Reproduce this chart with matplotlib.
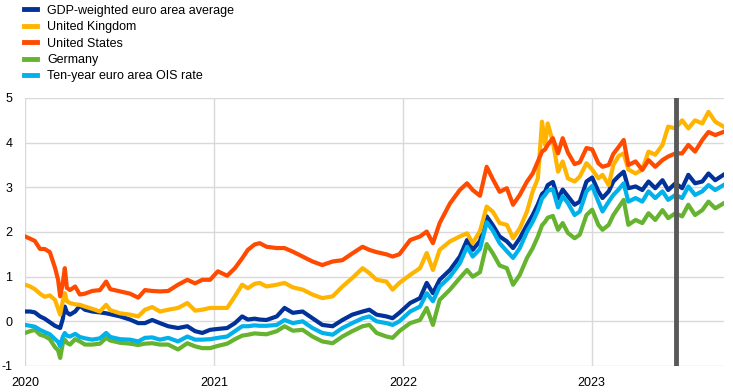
import matplotlib
matplotlib.use("Agg")
import matplotlib.pyplot as plt
import matplotlib.dates as mdates
import numpy as np
import pandas as pd

dates = ["2020-01-01","2020-01-11","2020-01-20","2020-01-30","2020-02-08","2020-02-18","2020-02-28",
         "2020-03-05","2020-03-09","2020-03-14","2020-03-18","2020-03-22","2020-03-28","2020-04-07",
         "2020-04-16","2020-04-26","2020-05-10","2020-05-25","2020-06-06","2020-06-14","2020-07-03",
         "2020-07-22","2020-08-07","2020-08-20","2020-09-03","2020-09-18","2020-10-04","2020-10-23",
         "2020-11-10","2020-11-25","2020-12-09","2020-12-24",
         "2021-01-08","2021-01-26","2021-02-10","2021-02-24","2021-03-07","2021-03-20","2021-03-30",
         "2021-04-12","2021-05-02","2021-05-17","2021-06-02","2021-06-21","2021-07-10","2021-07-29",
         "2021-08-18","2021-09-06","2021-09-25","2021-10-15","2021-10-28","2021-11-11","2021-11-30",
         "2021-12-12","2021-12-25",
         "2022-01-15","2022-02-03","2022-02-16","2022-02-28","2022-03-13","2022-04-02","2022-04-21",
         "2022-05-05","2022-05-16","2022-05-30","2022-06-12","2022-06-24","2022-07-07","2022-07-21",
         "2022-08-02","2022-08-15","2022-08-29","2022-09-09","2022-09-19","2022-09-27","2022-10-03",
         "2022-10-08","2022-10-18","2022-10-28","2022-11-06","2022-11-16","2022-11-29","2022-12-09",
         "2022-12-22",
         "2023-01-02","2023-01-14","2023-01-22","2023-02-03","2023-02-12","2023-02-22","2023-03-04",
         "2023-03-13","2023-03-27","2023-04-09","2023-04-21","2023-05-04","2023-05-18","2023-05-29",
         "2023-06-12","2023-06-25","2023-07-07","2023-07-20","2023-08-03","2023-08-15","2023-08-28",
         "2023-09-13"]

us = [1.90,1.85,1.80,1.62,1.62,1.55,1.20,0.93,0.56,0.85,1.19,0.75,0.70,0.78,0.60,0.62,0.68,0.70,0.89,0.72,
      0.67,0.62,0.53,0.70,0.68,0.67,0.68,0.82,0.93,0.85,0.93,0.93,
      1.12,1.02,1.19,1.41,1.60,1.72,1.75,1.67,1.64,1.64,1.56,1.45,1.34,1.26,1.34,1.37,1.52,1.67,1.60,
      1.55,1.50,1.45,1.50,
      1.82,1.90,2.01,1.75,2.20,2.64,2.94,3.09,2.94,2.81,3.46,3.18,2.90,2.98,2.61,2.83,3.13,3.31,3.58,
      3.80,3.85,3.95,4.10,3.76,4.10,3.78,3.52,3.56,3.88,
      3.85,3.54,3.46,3.50,3.75,3.90,4.06,3.50,3.58,3.39,3.61,3.46,3.61,3.69,3.76,3.76,3.95,3.80,4.06,
      4.24,4.17,4.24]

uk = [0.82,0.78,0.72,0.62,0.55,0.58,0.48,0.28,0.15,0.45,0.63,0.45,0.41,0.38,0.37,0.33,0.28,0.22,0.37,0.25,
      0.18,0.15,0.11,0.26,0.32,0.22,0.26,0.30,0.41,0.24,0.26,0.30,
      0.30,0.30,0.56,0.82,0.74,0.84,0.86,0.78,0.82,0.86,0.76,0.71,0.60,0.52,0.56,0.78,0.97,1.19,1.08,
      0.93,0.89,0.71,0.86,
      1.04,1.19,1.53,1.15,1.60,1.79,1.90,1.97,1.75,2.02,2.57,2.45,2.20,2.16,1.86,2.08,2.46,2.91,3.20,
      4.47,3.95,4.43,4.02,3.35,3.58,3.20,3.13,3.24,3.54,
      3.40,3.20,3.28,3.05,3.50,3.70,3.76,3.40,3.31,3.40,3.80,3.73,3.95,4.36,4.32,4.50,4.32,4.50,4.43,
      4.69,4.47,4.36]

gdp = [0.22,0.22,0.20,0.11,0.06,-0.02,-0.10,-0.13,-0.15,0.05,0.33,0.20,0.15,0.22,0.35,0.26,0.22,0.20,0.18,0.16,
       0.11,0.04,-0.04,-0.04,0.03,-0.04,-0.11,-0.15,-0.11,-0.22,-0.26,-0.19,
       -0.17,-0.15,-0.04,0.11,0.04,0.06,0.04,0.03,0.11,0.30,0.19,0.22,0.07,-0.08,-0.11,0.03,0.15,0.22,0.26,
       0.15,0.11,0.07,0.19,
       0.41,0.52,0.86,0.63,0.93,1.15,1.45,1.82,1.60,1.80,2.35,2.15,1.90,1.79,1.64,1.86,2.16,2.38,2.62,
       2.85,2.91,3.05,3.12,2.75,2.95,2.80,2.61,2.68,3.13,
       3.22,2.91,2.76,2.91,3.13,3.25,3.35,2.98,3.02,2.94,3.13,2.98,3.16,2.94,3.09,2.98,3.28,3.09,3.13,
       3.31,3.16,3.28]

germany = [-0.26,-0.22,-0.19,-0.30,-0.33,-0.40,-0.58,-0.65,-0.82,-0.50,-0.41,-0.48,-0.52,-0.40,-0.45,-0.52,
           -0.52,-0.50,-0.37,-0.43,-0.48,-0.50,-0.53,-0.50,-0.49,-0.52,-0.52,-0.63,-0.49,-0.56,-0.60,-0.60,
           -0.55,-0.50,-0.40,-0.32,-0.30,-0.27,-0.28,-0.29,-0.22,-0.11,-0.21,-0.19,-0.34,-0.45,-0.49,-0.34,
           -0.22,-0.11,-0.08,-0.26,-0.34,-0.37,-0.22,
           -0.04,0.03,0.30,-0.08,0.48,0.71,0.97,1.15,1.00,1.10,1.73,1.52,1.25,1.19,0.82,1.04,1.42,1.64,1.90,
           2.15,2.23,2.32,2.36,2.05,2.20,1.98,1.86,1.94,2.38,
           2.50,2.16,2.05,2.16,2.38,2.55,2.72,2.16,2.27,2.20,2.42,2.27,2.49,2.31,2.42,2.35,2.61,2.38,2.49,
           2.68,2.53,2.64]

ois = [-0.08,-0.10,-0.12,-0.19,-0.24,-0.29,-0.40,-0.46,-0.56,-0.35,-0.26,-0.32,-0.34,-0.28,-0.35,-0.38,
       -0.41,-0.38,-0.26,-0.35,-0.40,-0.41,-0.45,-0.37,-0.36,-0.41,-0.37,-0.45,-0.34,-0.41,-0.41,-0.40,
       -0.37,-0.34,-0.22,-0.11,-0.11,-0.09,-0.10,-0.10,-0.08,0.03,-0.04,0.00,-0.15,-0.26,-0.30,-0.15,
       -0.04,0.07,0.11,0.00,-0.04,-0.08,0.00,
       0.22,0.33,0.63,0.45,0.78,1.00,1.30,1.67,1.45,1.62,2.22,2.03,1.75,1.57,1.42,1.64,2.01,2.23,2.48,
       2.75,2.83,2.92,2.96,2.55,2.80,2.65,2.38,2.46,2.91,
       3.03,2.68,2.46,2.68,2.83,2.95,3.09,2.68,2.76,2.68,2.91,2.76,2.91,2.72,2.83,2.76,3.02,2.83,2.91,
       3.05,2.94,3.05]

series_labels = ["GDP-weighted euro area average", "United Kingdom", "United States",
                 "Germany", "Ten-year euro area OIS rate"]
series_colors = ["#003299", "#FFB400", "#FF4B00", "#65B32E", "#00B1EA"]
year_ticks = ["2020-01-01", "2021-01-01", "2022-01-01", "2023-01-01"]
year_labels = ["2020", "2021", "2022", "2023"]
vline_date = "2023-06-14"

plt.rcParams['font.family'] = ['Liberation Sans', 'DejaVu Sans']

x = pd.to_datetime(dates)
fig = plt.figure(figsize=(7.33, 3.92), dpi=100)
ax = fig.add_axes([25/733, 1-366/392, (724-25)/733, (366-98)/392])

handles = []
for vals, lab, col in zip([gdp, uk, us, germany, ois], series_labels, series_colors):
    h, = ax.plot(x, vals, color=col, lw=3, label=lab, solid_joinstyle='round')
    handles.append(h)

ax.axvline(pd.Timestamp(vline_date), color="#595959", lw=3.5, zorder=5)

ax.set_xlim(pd.Timestamp("2020-01-01"), pd.Timestamp("2023-09-14"))
ax.set_ylim(-1, 5)
ax.set_yticks(range(-1, 6))
ax.set_yticklabels([str(v) for v in range(-1, 6)])
ax.set_xticks(pd.to_datetime(year_ticks))
ax.set_xticklabels(year_labels)
ax.grid(True, color="#d9d9d9", lw=1)
ax.set_axisbelow(True)
for s in ax.spines.values():
    s.set_visible(False)
ax.tick_params(length=0, labelsize=9, colors="black")
ax.tick_params(axis='y', pad=9)
ax.tick_params(axis='x', pad=8)

leg = fig.legend(handles=handles, loc='upper left', bbox_to_anchor=(0.021, 1.01),
                 frameon=False, fontsize=9, handlelength=1.0, handletextpad=0.85,
                 labelspacing=0.35, borderaxespad=0.3)
for lh in leg.get_lines():
    lh.set_linewidth(3.5)

fig.savefig("out.png", dpi=100)
